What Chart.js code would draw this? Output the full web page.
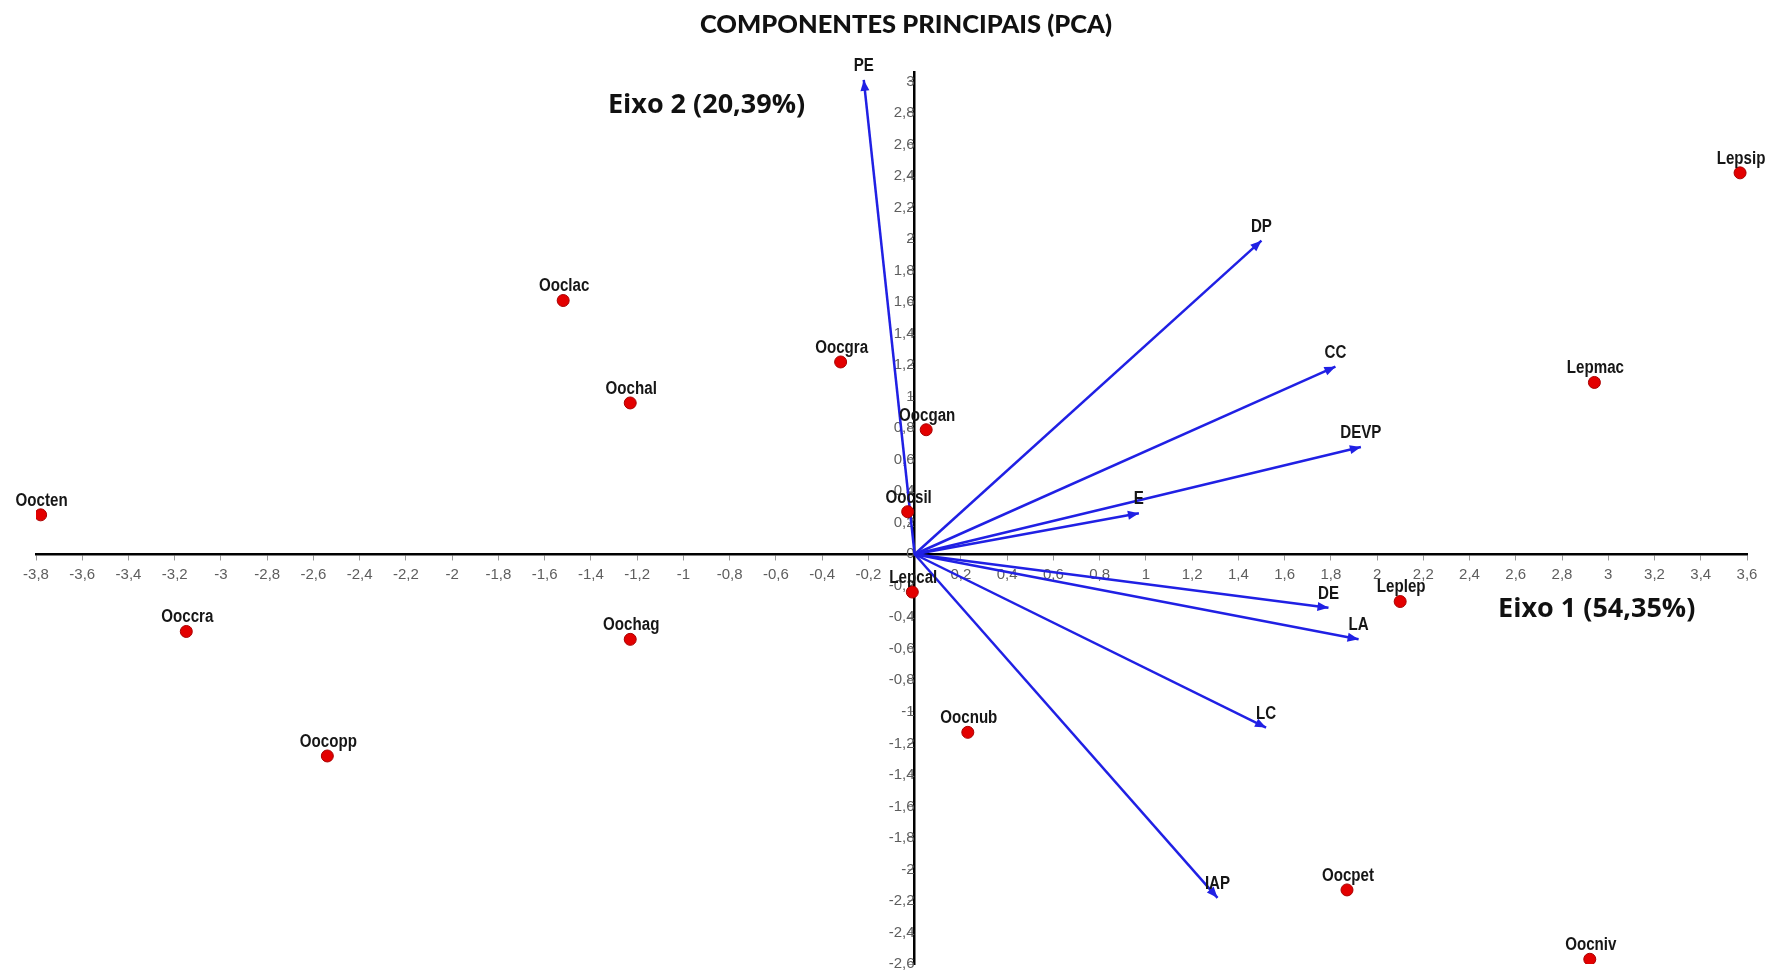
<!DOCTYPE html>
<html>
<head>
<meta charset="utf-8">
<script src="https://cdn.jsdelivr.net/npm/chart.js@4/dist/chart.umd.min.js"></script>
<style>
  html, body { margin: 0; padding: 0; background: #fff; }
  #wrap { width: 1770px; height: 976px; position: relative; }
</style>
</head>
<body>
<div id="wrap"><canvas id="pca"></canvas></div>
<script>
// scores (species)
var species = ["Oocten", "Ooccra", "Oocopp", "Ooclac", "Oochal", "Oochag", "Oocgra", "Oocgan",
  "Oocsil", "Lepcal", "Oocnub", "Oocpet", "Oocniv", "Leplep", "Lepmac", "Lepsip"];
var eixo1 = [-3.78, -3.15, -2.54, -1.52, -1.23, -1.23, -0.32, 0.05,
  -0.03, -0.01, 0.23, 1.87, 2.92, 2.10, 2.94, 3.57];
var eixo2 = [0.25, -0.49, -1.28, 1.61, 0.96, -0.54, 1.22, 0.79,
  0.27, -0.24, -1.13, -2.13, -2.57, -0.30, 1.09, 2.42];

// loadings (variables)
var variaveis = ["PE", "DP", "CC", "DEVP", "E", "DE", "LA", "LC", "IAP"];
var carga1 = [-0.22, 1.50, 1.82, 1.93, 0.97, 1.79, 1.92, 1.52, 1.31];
var carga2 = [3.01, 1.99, 1.19, 0.68, 0.26, -0.34, -0.54, -1.10, -2.18];

// axis ranges / ticks
var xMin = -3.8, xMax = 3.6;
var yMin = -2.6, yMax = 3.06, yTopTick = 3.0;
var passo = 0.2;

var titulo = 'COMPONENTES PRINCIPAIS (PCA)';
var azul = 'rgb(32, 32, 228)';
var fonteTick = { family: '"Liberation Sans", Arial, sans-serif', size: 15 };

function virgula(v) {
  var r = Math.round(v * 10) / 10;
  return String(r).replace('.', ',');
}

var datasets = [{
  label: 'Espécies',
  data: species.map(function (s, i) { return {x: eixo1[i], y: eixo2[i]}; }),
  pointRadius: 6,
  pointHoverRadius: 6,
  backgroundColor: '#e30000',
  borderColor: '#a80000',
  borderWidth: 1
}];

variaveis.forEach(function (v, i) {
  datasets.push({
    label: v,
    data: [{x: 0, y: 0}, {x: carga1[i], y: carga2[i]}],
    showLine: true,
    borderColor: azul,
    borderWidth: 2.5,
    pointRadius: 0,
    pointHoverRadius: 0
  });
});

// narrow-ish label text
function texto(ctx, s, x, y) {
  ctx.save();
  ctx.translate(x, y);
  ctx.scale(0.84, 1);
  ctx.fillText(s, 0, 0);
  ctx.restore();
}

/* arrowheads + text labels */
var rotulos = {
  id: 'rotulos',
  afterDatasetsDraw: function (chart) {
    var ctx = chart.ctx, sx = chart.scales.x, sy = chart.scales.y;
    ctx.save();

    variaveis.forEach(function (v, i) {
      var x0 = sx.getPixelForValue(0), y0 = sy.getPixelForValue(0);
      var x1 = sx.getPixelForValue(carga1[i]), y1 = sy.getPixelForValue(carga2[i]);
      var a = Math.atan2(y1 - y0, x1 - x0);
      var L = 11, W = 4.5;
      ctx.fillStyle = azul;
      ctx.beginPath();
      ctx.moveTo(x1, y1);
      ctx.lineTo(x1 - L * Math.cos(a) + W * Math.sin(a), y1 - L * Math.sin(a) - W * Math.cos(a));
      ctx.lineTo(x1 - L * Math.cos(a) - W * Math.sin(a), y1 - L * Math.sin(a) + W * Math.cos(a));
      ctx.closePath();
      ctx.fill();
    });

    ctx.font = 'bold 18px "Liberation Sans", Arial, sans-serif';
    ctx.fillStyle = '#161616';
    ctx.textAlign = 'center';
    ctx.textBaseline = 'middle';
    variaveis.forEach(function (v, i) {
      texto(ctx, v, sx.getPixelForValue(carga1[i]), sy.getPixelForValue(carga2[i]) - 14);
    });
    species.forEach(function (s, i) {
      texto(ctx, s, sx.getPixelForValue(eixo1[i]) + 1, sy.getPixelForValue(eixo2[i]) - 14);
    });

    // axis titles
    ctx.font = 'bold 27px "Open Sans", "Noto Sans", sans-serif';
    ctx.fillStyle = '#111';
    ctx.fillText('Eixo 2 (20,39%)', sx.getPixelForValue(-0.9), sy.getPixelForValue(2.85));
    ctx.fillText('Eixo 1 (54,35%)', sx.getPixelForValue(2.95), sy.getPixelForValue(-0.35));

    // main title (sits a little right of centre in the original)
    ctx.font = '900 25.5px Lato, "Noto Sans", sans-serif';
    ctx.fillText(titulo, 906, 25);
    ctx.restore();
  }
};

var ctx = document.getElementById('pca');

var grafico = new Chart(ctx, {
  type: 'scatter',
  data: { datasets: datasets },
  options: {
    responsive: true,
    maintainAspectRatio: false,
    animation: false,
    layout: { padding: { left: 36, right: 23, top: 72, bottom: 10 } },
    plugins: {
      legend: { display: false },
      tooltip: { enabled: false },
      title: { display: false }
    },
    scales: {
      x: {
        type: 'linear',
        min: xMin,
        max: xMax,
        position: { y: 0 },
        grid: { drawOnChartArea: false, drawTicks: true, tickLength: 5, color: '#9a9a9a' },
        border: { display: true, color: '#000', width: 2.5 },
        ticks: {
          stepSize: passo,
          autoSkip: false,
          maxRotation: 0,
          padding: 7,
          color: '#5e5e5e',
          font: fonteTick,
          callback: function (v) { return Math.abs(v) < 1e-9 ? '' : virgula(v); }
        }
      },
      y: {
        type: 'linear',
        min: yMin,
        max: yMax,
        position: { x: 0 },
        afterBuildTicks: function (axis) {
          var t = [];
          for (var k = 0; yMin + k * passo <= yTopTick + 1e-9; k++) {
            t.push({ value: Math.round((yMin + k * passo) * 10) / 10 });
          }
          axis.ticks = t;
        },
        grid: { drawOnChartArea: false, drawTicks: true, tickLength: 5, color: '#9a9a9a' },
        border: { display: true, color: '#000', width: 2.5 },
        ticks: {
          stepSize: passo,
          autoSkip: false,
          padding: 3,
          color: '#5e5e5e',
          font: fonteTick,
          callback: function (v) { return virgula(v); }
        }
      }
    }
  },
  plugins: [rotulos]
});
</script>
</body>
</html>
